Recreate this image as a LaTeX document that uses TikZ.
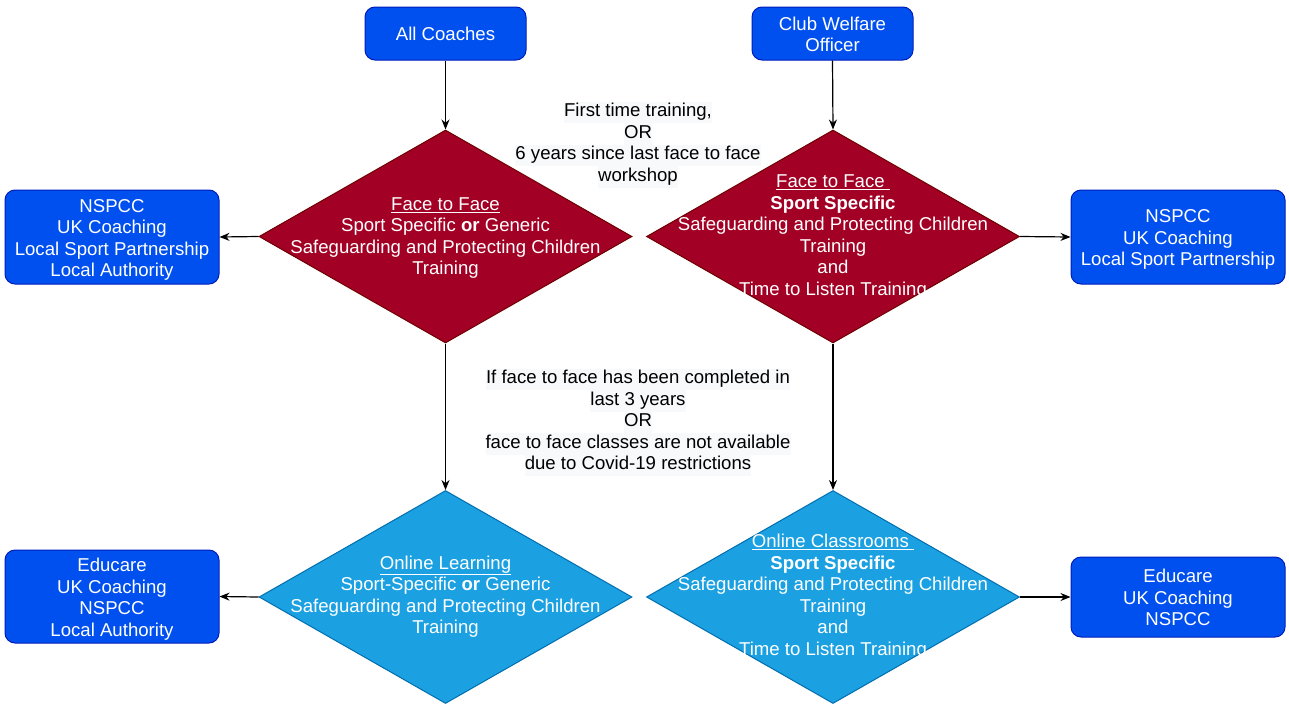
\documentclass[tikz,border=0pt]{standalone}
\usepackage{fontspec}
\setmainfont{Liberation Sans}
\usetikzlibrary{shapes.geometric,arrows.meta}
\definecolor{boxblue}{HTML}{0050EF}
\definecolor{boxblueline}{HTML}{001DBC}
\definecolor{crimsonfill}{HTML}{A20025}
\definecolor{crimsonline}{HTML}{6F0000}
\definecolor{skyfill}{HTML}{1BA1E2}
\definecolor{skyline}{HTML}{006EAF}
\definecolor{lblbg}{HTML}{F8F9FA}
\newcommand{\lline}[1]{{\setlength{\fboxsep}{0pt}\colorbox{lblbg}{\strut #1}}}
\newcommand{\boxtext}[1]{\raisebox{0pt}[\dimexpr\height+6pt\relax][\depth]{\begin{tabular}{@{}c@{}}#1\end{tabular}}}
\begin{document}
\begin{tikzpicture}[x=1pt,y=-1pt,
  every node/.style={font=\fontsize{18.6}{21.5}\selectfont},
  srcbox/.style={draw=boxblueline, fill=boxblue, rounded corners=10pt, line width=1pt, text=white, inner sep=0pt},
  redd/.style={diamond, draw=crimsonline, fill=crimsonfill, minimum width=373pt, minimum height=213pt, inner sep=0pt, line width=1pt},
  blued/.style={diamond, draw=skyline, fill=skyfill, minimum width=373pt, minimum height=213pt, inner sep=0pt, line width=1pt},
  dtext/.style={text=white, align=center, inner sep=0pt},
  arr/.style={-{Stealth[length=10pt,width=8pt]}, line width=1.2pt, black},
  lbl/.style={align=center, inner sep=0pt, text=black}
]
\useasboundingbox (0,0) rectangle (1289,704);
\fill[white] (0,0) rectangle (1289,704);

% source boxes
\node[srcbox, minimum width=161pt, minimum height=53pt] (all) at (445.5,33.5) {\boxtext{All Coaches}};
\node[srcbox, minimum width=161pt, minimum height=53pt] (cwo) at (832.5,33.5) {\boxtext{Club Welfare\\Officer}};

% diamonds
\node[redd] (rl) at (445.5,236.5) {};
\node[redd] (rr) at (833,236.5) {};
\node[blued] (bl) at (445.5,597) {};
\node[blued] (br) at (833,597) {};

\node[dtext] (rlt) at (445.5,238) {\underline{Face to Face}\\Sport Specific \textbf{or} Generic\\Safeguarding and Protecting Children\\Training};
\node[dtext] (rrt) at (833,237) {\underline{Face to Face\ }\\\textbf{Sport Specific}\\Safeguarding and Protecting Children\\Training\\and\\Time to Listen Training};
\node[dtext] (blt) at (445.5,596.5) {\underline{Online Learning}\\Sport-Specific \textbf{or} Generic\\Safeguarding and Protecting Children\\Training};
\node[dtext] (brt) at (833,596.5) {\underline{Online Classrooms\ }\\\textbf{Sport Specific}\\Safeguarding and Protecting Children\\Training\\and\\Time to Listen Training};

% provider boxes
\node[srcbox, minimum width=214pt, minimum height=94pt] (pl1) at (112,237) {\boxtext{NSPCC\\UK Coaching\\Local Sport Partnership\\Local Authority}};
\node[srcbox, minimum width=214pt, minimum height=94pt] (pr1) at (1178,237) {\boxtext{NSPCC\\UK Coaching\\Local Sport Partnership}};
\node[srcbox, minimum width=214pt, minimum height=93pt] (pl2) at (112,596.5) {\boxtext{Educare\\UK Coaching\\NSPCC\\Local Authority}};
\node[srcbox, minimum width=214pt, minimum height=80pt] (pr2) at (1178,597) {\boxtext{Educare\\UK Coaching\\NSPCC}};

% connectors
\draw[arr] (all) -- (rl.north);
\draw[arr] (cwo.south) -- (rr.north);
\draw[arr] (rl.west) -- (pl1.east);
\draw[arr] (rr.east) -- (pr1.west);
\draw[arr] (rl.south) -- (bl.north);
\draw[arr] (rr.south) -- (br.north);
\draw[arr] (bl.west) -- (pl2.east);
\draw[arr] (br.east) -- (pr2.west);

% labels
\node[lbl] (l1) at (638,144.5) {\lline{First time training,}\\\lline{OR}\\\lline{6 years since last face to face}\\\lline{workshop}};
\node[lbl] (l2) at (638,422.5) {\lline{If face to face has been completed in}\\\lline{last 3 years}\\\lline{OR}\\\lline{face to face classes are not available}\\\lline{due to Covid-19 restrictions}};
\end{tikzpicture}
\end{document}
